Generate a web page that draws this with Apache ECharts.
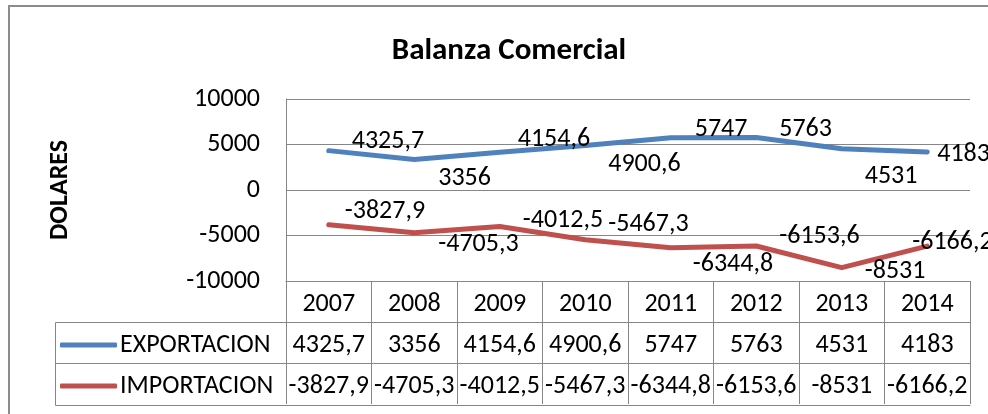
<!DOCTYPE html>
<html>
<head>
<meta charset="utf-8">
<script src="https://cdn.jsdelivr.net/npm/echarts@6/dist/echarts.min.js"></script>
<style>html,body{margin:0;padding:0;background:#fff}#c{width:988px;height:414px}</style>
</head>
<body>
<div id="c"></div>
<script>
var categories = ['2007','2008','2009','2010','2011','2012','2013','2014'];
var exportacion = [4325.7, 3356, 4154.6, 4900.6, 5747, 5763, 4531, 4183];
var importacion = [-3827.9, -4705.3, -4012.5, -5467.3, -6344.8, -6153.6, -8531, -6166.2];
var yTicks = {min: -10000, max: 10000, interval: 5000};
// label placement (offsets only, relative to each point)
var expOffsets = [[22,-9],[23,19],[17,-13],[22,19],[23,-8],[22,-8],[22,28],[9,3]];
var impOffsets = [[15,-13],[23,12],[22,-6],[22,-15],[21,17],[22,-9],[22,4],[-16,-4]];

var FONT = "Carlito, 'Noto Sans', sans-serif";
var FS = 26;
var GRAY = '#868686';
function fmt(v){ return String(v).replace('.', ','); }

function seriesData(vals, offs){
  return vals.map(function(v,i){
    return {value: v, label: {offset: offs[i]}};
  });
}

var chart = echarts.init(document.getElementById('c'), null, {renderer:'canvas'});
var tableAxis = function(offset, labelsFn, showTicks, showLabels){
  return {
    type: 'category', data: categories, position: 'bottom', offset: offset,
    gridIndex: 0, boundaryGap: true,
    axisLine: {show: true, onZero: false, lineStyle: {color: GRAY, width: 1}},
    axisTick: {show: showTicks, length: 41, inside: false, lineStyle: {color: GRAY, width: 1}},
    axisLabel: {show: showLabels, margin: 23, verticalAlign: 'middle', fontFamily: FONT, fontSize: FS, color: '#000',
      formatter: labelsFn, interval: 0},
    splitLine: {show: false}
  };
};

chart.setOption({
  animation: false,
  backgroundColor: '#fff',
  title: {
    text: 'Balanza Comercial', left: 504, top: 31, textAlign: 'center',
    textStyle: {fontFamily: FONT, fontSize: 31, fontWeight: 'bold', color: '#000'}
  },
  grid: {left: 286, right: 18, top: 99, bottom: 133, containLabel: false},
  legend: {
    orient: 'vertical', left: 60, top: 330, itemGap: 11, padding: 0,
    itemWidth: 57, itemHeight: 5, icon: 'roundRect',
    textStyle: {fontFamily: FONT, fontSize: FS, color: '#000', lineHeight: 30, padding: [0,0,0,-2]},
    data: ['EXPORTACION', 'IMPORTACION']
  },
  xAxis: [
    tableAxis(0, function(v){ return v; }, true, true),
    tableAxis(41, function(v, i){ return fmt(exportacion[i]); }, true, true),
    tableAxis(82, function(v, i){ return fmt(importacion[i]); }, true, true),
    tableAxis(124, function(){ return ''; }, false, false)
  ],
  yAxis: {
    type: 'value', min: yTicks.min, max: yTicks.max, interval: yTicks.interval,
    name: 'DOLARES', nameLocation: 'middle', nameGap: 213, nameRotate: 90,
    nameTextStyle: {fontFamily: FONT, fontSize: FS, fontWeight: 'bold', color: '#000'},
    axisLine: {show: true, lineStyle: {color: GRAY, width: 1}},
    axisTick: {show: false},
    axisLabel: {margin: 26, fontFamily: FONT, fontSize: FS, color: '#000',
      formatter: function(v){ return String(v); }},
    splitLine: {show: true, lineStyle: {color: GRAY, width: 1}}
  },
  series: [
    {
      name: 'EXPORTACION', type: 'line', xAxisIndex: 0,
      data: seriesData(exportacion, expOffsets),
      symbol: 'circle', symbolSize: 2, showSymbol: true,
      itemStyle: {color: '#4F81BD'},
      lineStyle: {color: '#4F81BD', width: 5, cap: 'round', join: 'round'},
      label: {show: true, position: 'right', distance: 0, fontFamily: FONT, fontSize: FS, color: '#000',
        verticalAlign: 'middle', formatter: function(p){ return fmt(p.value); }},
      z: 3
    },
    {
      name: 'IMPORTACION', type: 'line', xAxisIndex: 0,
      data: seriesData(importacion, impOffsets),
      symbol: 'circle', symbolSize: 2, showSymbol: true,
      itemStyle: {color: '#C0504D'},
      lineStyle: {color: '#C0504D', width: 5, cap: 'round', join: 'round'},
      label: {show: true, position: 'right', distance: 0, fontFamily: FONT, fontSize: FS, color: '#000',
        verticalAlign: 'middle', formatter: function(p){ return fmt(p.value); }},
      z: 3
    }
  ],
  graphic: [
    {type: 'rect', shape: {x: 9, y: 6, width: 1100, height: 500},
      style: {fill: 'none', stroke: '#8c8c8c', lineWidth: 2}, silent: true, z: -1},
    {type: 'line', shape: {x1: 55.5, y1: 322.5, x2: 286, y2: 322.5}, style: {stroke: GRAY, lineWidth: 1}},
    {type: 'line', shape: {x1: 55.5, y1: 363.5, x2: 286, y2: 363.5}, style: {stroke: GRAY, lineWidth: 1}},
    {type: 'line', shape: {x1: 55.5, y1: 405.5, x2: 286, y2: 405.5}, style: {stroke: GRAY, lineWidth: 1}},
    {type: 'line', shape: {x1: 55.5, y1: 322.5, x2: 55.5, y2: 405.5}, style: {stroke: GRAY, lineWidth: 1}}
  ]
});
</script>
</body>
</html>
